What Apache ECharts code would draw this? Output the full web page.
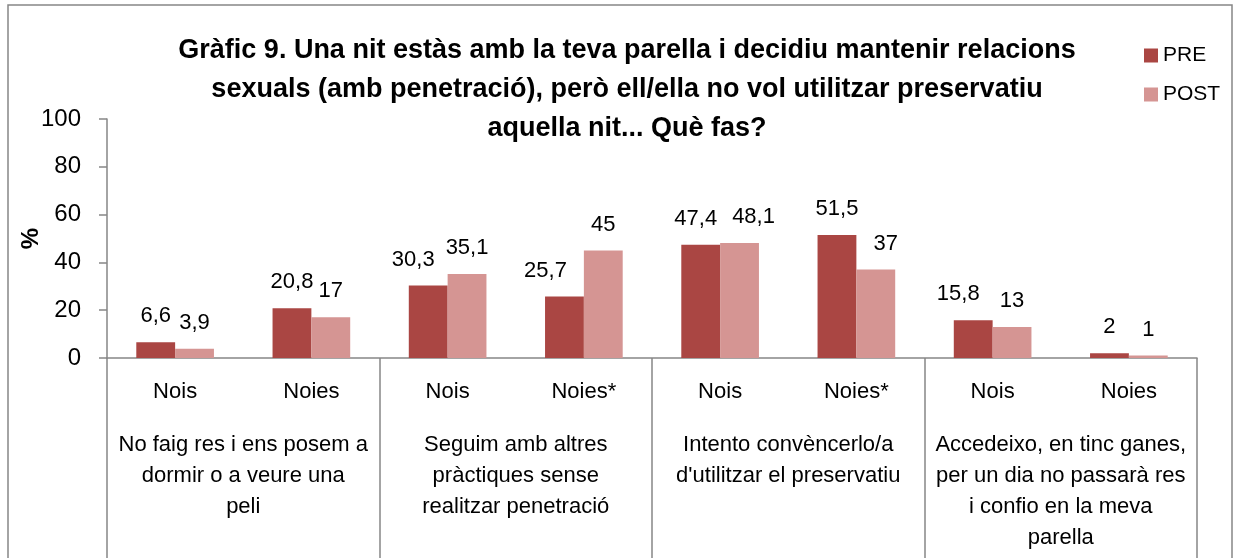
<!DOCTYPE html>
<html>
<head>
<meta charset="utf-8">
<script src="https://cdn.jsdelivr.net/npm/echarts@6/dist/echarts.min.js"></script>
<style>
  html, body { margin: 0; padding: 0; background: #fff; }
  #main { width: 1236px; height: 558px; }
</style>
</head>
<body>
<div id="main"></div>
<script>
// dades del gràfic
var sexes = ['Nois', 'Noies', 'Nois', 'Noies*', 'Nois', 'Noies*', 'Nois', 'Noies'];
var grups = [
  'No faig res i ens posem a\ndormir o a veure una\npeli',
  'Seguim amb altres\npràctiques sense\nrealitzar penetració',
  'Intento convèncerlo/a\nd\'utilitzar el preservatiu',
  'Accedeixo, en tinc ganes,\nper un dia no passarà res\ni confio en la meva\nparella'
];
var pre = [6.6, 20.8, 30.3, 25.7, 47.4, 51.5, 15.8, 2];
var post = [3.9, 17, 35.1, 45, 48.1, 37, 13, 1];
var yTicks = [0, 20, 40, 60, 80, 100];

// desplaçament horitzontal de les etiquetes (px), com a l'original
var despPre = [0, 0, -15, -19, -5, 0, -15, 0];
var despPost = [0, 0, 0, 0, 14, 10, 0, 0];

var font = 'Liberation Sans';
var gris = '#868686';

var myChart = echarts.init(document.getElementById('main'));

function coma (p) { // decimals amb coma
  return String(p.value).replace('.', ',');
}

function punts (vals, desp) {
  return vals.map(function (v, i) {
    return { value: v, label: { offset: [desp[i], 0] } };
  });
}

let option = {
  textStyle: { fontFamily: font, color: '#000' },
  title: {
    text: 'Gràfic 9. Una nit estàs amb la teva parella i decidiu mantenir relacions\nsexuals (amb penetració), però ell/ella no vol utilitzar preservatiu\naquella nit... Què fas?',
    left: 622,
    top: 26,
    textAlign: 'center',
    textStyle: { fontFamily: font, fontSize: 27, fontWeight: 'bold', lineHeight: 39, color: '#000' }
  },
  color: ['#AA4643', '#D59593'],
  legend: {
    orient: 'vertical',
    left: 1139,
    top: 40,
    itemWidth: 14,
    itemHeight: 14,
    itemGap: 18,
    icon: 'rect',
    textStyle: { fontFamily: font, fontSize: 21, color: '#000' },
    data: ['PRE', 'POST']
  },
  graphic: [{
    type: 'rect',
    shape: { x: 8, y: 5, width: 1224, height: 600 },
    style: { fill: 'none', stroke: gris, lineWidth: 1.5 },
    silent: true
  }],
  grid: { left: 107, right: 39, top: 119, bottom: 200 },
  xAxis: [{
    type: 'category',
    data: sexes,
    axisLine: { lineStyle: { color: gris, width: 1.5 } },
    axisTick: { show: false },
    axisLabel: { fontFamily: font, fontSize: 22, color: '#000', margin: 23, lineHeight: 22, interval: 0 }
  }, {
    type: 'category',
    data: grups,
    position: 'bottom',
    axisLine: { show: false },
    axisTick: { show: true, length: 220, lineStyle: { color: gris, width: 1.5 } },
    axisLabel: { fontFamily: font, fontSize: 22, color: '#000', margin: 71, lineHeight: 31, interval: 0 }
  }],
  yAxis: {
    type: 'value',
    min: yTicks[0],
    max: yTicks[yTicks.length - 1],
    interval: 20,
    name: '%',
    nameLocation: 'middle',
    nameRotate: 90,
    nameGap: 64,
    nameMoveOverlap: false,
    nameTextStyle: { fontFamily: font, fontSize: 24, fontWeight: 'bold', color: '#000' },
    axisLine: { show: true, lineStyle: { color: gris, width: 1.5 } },
    axisTick: { show: true, length: 8, lineStyle: { color: gris, width: 1.5 } },
    splitLine: { show: false },
    axisLabel: { fontFamily: font, fontSize: 24, color: '#000', margin: 26 }
  },
  series: [{
    name: 'PRE',
    type: 'bar',
    xAxisIndex: 0,
    barGap: '0%',
    barCategoryGap: '43%',
    data: punts(pre, despPre),
    label: { show: true, position: 'top', distance: 15, fontFamily: font, fontSize: 22, color: '#000', formatter: coma }
  }, {
    name: 'POST',
    type: 'bar',
    xAxisIndex: 0,
    barGap: '0%',
    barCategoryGap: '43%',
    data: punts(post, despPost),
    label: { show: true, position: 'top', distance: 15, fontFamily: font, fontSize: 22, color: '#000', formatter: coma }
  }]
};

myChart.setOption(option);
</script>
</body>
</html>
